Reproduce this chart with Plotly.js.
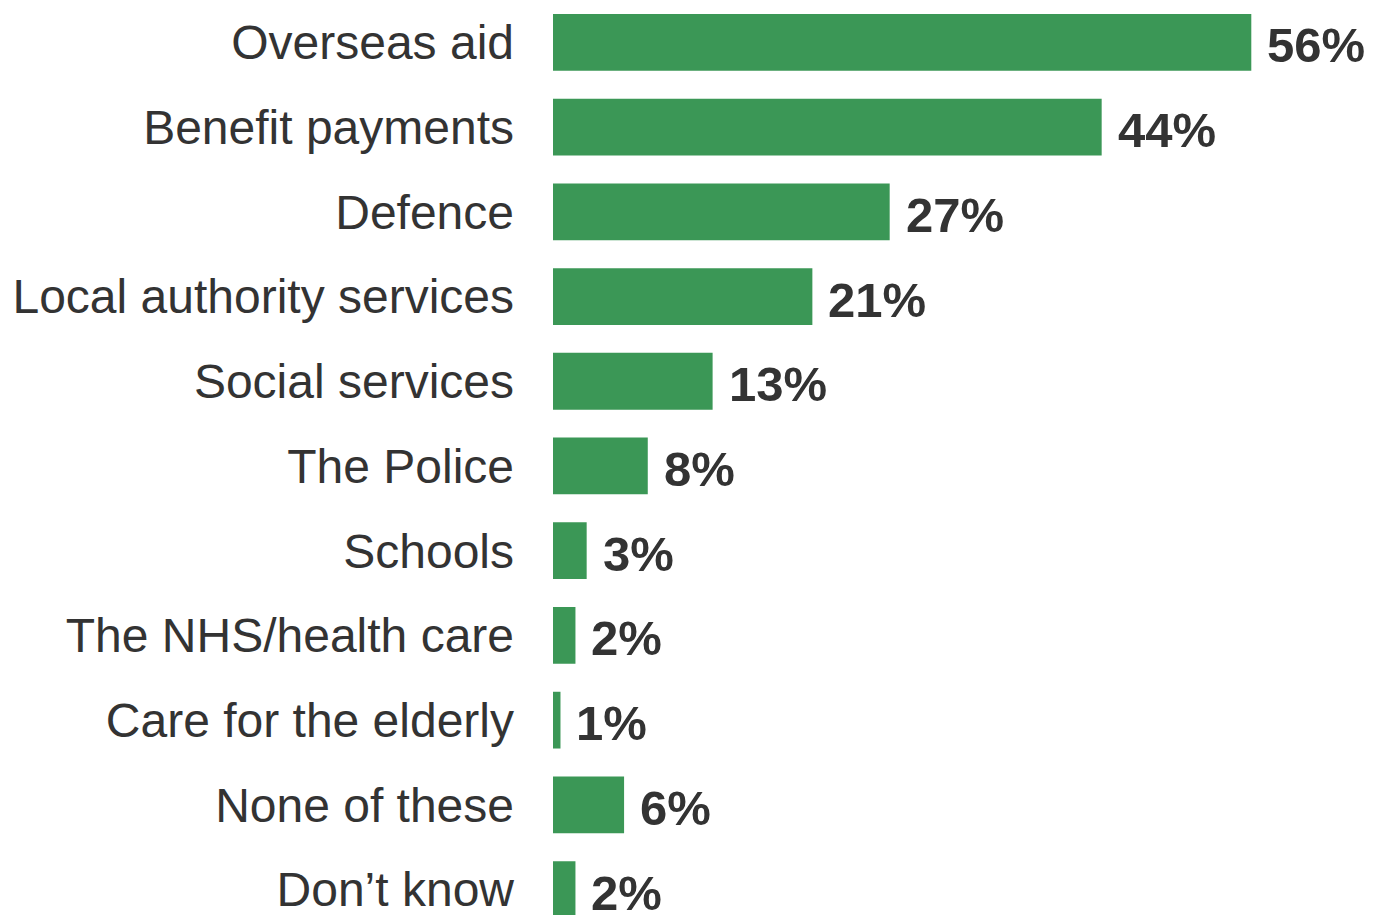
<!DOCTYPE html>
<html>
<head>
<meta charset="utf-8">
<script src="https://cdn.plot.ly/plotly-3.0.1.min.js"></script>
<style>html,body{margin:0;padding:0;background:#fff;}#chart{width:1376px;height:915px;}</style>
</head>
<body>
<div id="chart"></div>
<script>
const categories = ["Overseas aid", "Benefit payments", "Defence", "Local authority services", "Social services", "The Police", "Schools", "The NHS/health care", "Care for the elderly", "None of these", "Don\u2019t know"];
const values = [56, 44, 27, 20.8, 12.8, 7.6, 2.7, 1.8, 0.6, 5.7, 1.8];
const labels = ["56%", "44%", "27%", "21%", "13%", "8%", "3%", "2%", "1%", "6%", "2%"];

const green = "#3b9756";
const textColor = "#333333";

const trace = {
  type: "bar",
  orientation: "h",
  y: categories,
  x: values,
  marker: {color: green},
  hoverinfo: "none"
};

const annotations = categories.map((c, i) => ({
  x: values[i], y: c, xref: "x", yref: "y",
  text: "<b>" + labels[i] + "</b>",
  showarrow: false, xanchor: "left", yanchor: "middle", xshift: 14, yshift: -3,
  font: {family: "Liberation Sans, Arial, sans-serif", size: 49, color: textColor}
}));

const layout = {
  width: 1376, height: 915,
  margin: {l: 553, r: 0, t: 0, b: 0},
  paper_bgcolor: "#ffffff", plot_bgcolor: "#ffffff",
  bargap: 0.33,
  showlegend: false,
  xaxis: {range: [0, 66], visible: false, fixedrange: true},
  yaxis: {
    type: "category",
    range: [10.3, -0.5],
    showgrid: false, zeroline: false, showline: false, ticks: "",
    ticklabelstandoff: 38,
    tickfont: {family: "Liberation Sans, Arial, sans-serif", size: 48, color: textColor}
  },
  annotations: annotations
};

Plotly.newPlot("chart", [trace], layout, {displayModeBar: false, staticPlot: true});
</script>
</body>
</html>
